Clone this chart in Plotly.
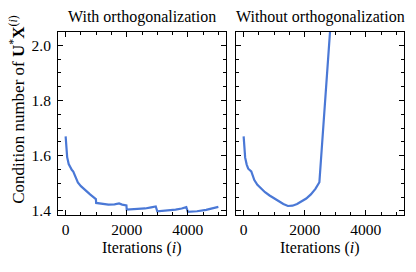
import plotly.graph_objects as go

# With orthogonalization
with_x = [0, 25, 50, 100, 150, 200, 250, 300, 350, 400, 500, 600, 700, 800, 900, 990,
          1000, 1200, 1400, 1600, 1750, 1850, 1990,
          2000, 2300, 2600, 2800, 2950,
          3000, 3300, 3600, 3800, 3950,
          4000, 4300, 4600, 4800, 5000]
with_y = [1.670, 1.620, 1.595, 1.570, 1.556, 1.549, 1.543, 1.528, 1.515, 1.503, 1.490, 1.479, 1.469, 1.460, 1.451, 1.443,
          1.429, 1.425, 1.423, 1.424, 1.427, 1.423, 1.420,
          1.405, 1.406, 1.409, 1.413, 1.416,
          1.399, 1.401, 1.405, 1.409, 1.414,
          1.397, 1.399, 1.404, 1.409, 1.415]

# Without orthogonalization
without_x = [0, 25, 50, 100, 150, 250, 300, 350, 450, 550, 700, 850, 1000, 1150, 1300, 1450,
             1600, 1750, 1900, 2050, 2200, 2350, 2480, 2540, 2600, 2700, 2800, 2900, 3000]
without_y = [1.670, 1.620, 1.593, 1.568, 1.553, 1.543, 1.530, 1.512, 1.495, 1.483, 1.468, 1.456, 1.445, 1.435, 1.425, 1.418,
             1.419, 1.425, 1.434, 1.445, 1.460, 1.480, 1.504, 1.605, 1.670, 1.855, 2.005, 2.160, 2.330]

titles = ["With orthogonalization", "Without orthogonalization"]
x_ticks = [0, 2000, 4000]
y_ticks = [1.4, 1.6, 1.8, 2.0]

FONT = "Liberation Serif"
LINE = "#4a78d6"
W, H = 416, 272


def px_x(p):
    return p / W


def px_y(p):
    return 1 - p / H


fig = go.Figure()
fig.add_trace(go.Scatter(x=with_x, y=with_y, mode="lines", xaxis="x", yaxis="y",
                         line=dict(color=LINE, width=2.2), showlegend=False))
fig.add_trace(go.Scatter(x=without_x, y=without_y, mode="lines", xaxis="x2", yaxis="y2",
                         line=dict(color=LINE, width=2.2), showlegend=False))

common = dict(
    showline=True, linecolor="black", linewidth=1, mirror="allticks",
    ticks="inside", ticklen=5, tickwidth=1, tickcolor="black",
    showgrid=False, zeroline=False,
    tickfont=dict(family=FONT, size=15.5, color="black"),
)
xminor = dict(ticks="inside", dtick=500, tick0=0, ticklen=3, tickwidth=1, tickcolor="black", showgrid=False)
yminor = dict(ticks="inside", dtick=0.05, tick0=1.4, ticklen=3, tickwidth=1, tickcolor="black", showgrid=False)
ydom = [px_y(218.3), px_y(32)]

fig.update_layout(
    width=W, height=H,
    margin=dict(l=0, r=0, t=0, b=0),
    plot_bgcolor="white", paper_bgcolor="white",
    xaxis=dict(common, domain=[px_x(58), px_x(226)], anchor="y", range=[-250, 5250],
               tickvals=x_ticks, minor=xminor),
    xaxis2=dict(common, domain=[px_x(236), px_x(404)], anchor="y2", range=[-250, 5250],
                tickvals=x_ticks, minor=xminor),
    yaxis=dict(common, domain=ydom, anchor="x", range=[1.385, 2.05],
               tickvals=y_ticks, tickformat=".1f", minor=yminor, ticklabelstandoff=3),
    yaxis2=dict(common, domain=ydom, anchor="x2", range=[1.385, 2.05],
                tickvals=y_ticks, showticklabels=False, minor=yminor),
)

for i, t in enumerate(titles):
    cx = (58 + 226) / 2 if i == 0 else (236 + 404) / 2
    fig.add_annotation(text=t, x=px_x(cx), y=px_y(17.5), xref="paper", yref="paper",
                       showarrow=False, xanchor="center", yanchor="middle",
                       font=dict(family=FONT, size=16, color="black"))
    fig.add_annotation(text="Iterations (<i>i</i>)", x=px_x(cx), y=px_y(252), xref="paper", yref="paper",
                       showarrow=False, xanchor="center", yanchor="middle",
                       font=dict(family=FONT, size=16, color="black"))

fig.add_annotation(text="Condition number of <b>U</b><sup>*</sup><b>X</b><sup>(<i>i</i>)</sup>",
                   x=px_x(17.5), y=px_y(111), xref="paper", yref="paper", textangle=-90,
                   showarrow=False, xanchor="center", yanchor="middle",
                   font=dict(family=FONT, size=17, color="black"))

fig.write_html("out.html", config={"displayModeBar": False},
               post_script="document.body.style.margin='0';document.body.style.overflow='hidden';")
